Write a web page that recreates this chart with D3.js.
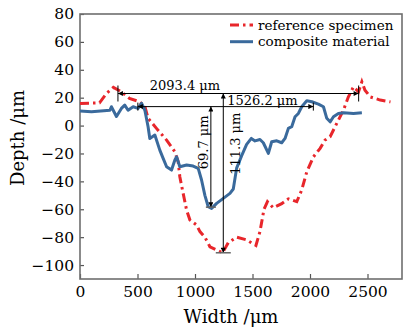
<!DOCTYPE html>
<html>
<head>
<meta charset="utf-8">
<script src="https://cdn.jsdelivr.net/npm/d3@7"></script>
<style>
  body { margin: 0; background: #fff; }
  text { font-family: "DejaVu Serif", "Liberation Serif", serif; fill: #000; }
</style>
</head>
<body>
<svg id="chart" width="406" height="331"></svg>
<script>
// reference specimen (red dash-dot)
const refWidth = [0, 170, 230, 290, 360, 430, 520, 565, 592, 665, 753, 825, 854, 868, 897, 927, 956, 1014, 1043, 1086, 1130, 1188, 1240,
    1289, 1362, 1450, 1530, 1565, 1600, 1630, 1681, 1754, 1812, 1885, 1928, 1972, 2030, 2088, 2131, 2175, 2204, 2247, 2291, 2334,
    2378, 2422, 2451, 2478, 2523, 2610, 2700];
const refDepth = [15.9, 16.3, 23, 27.4, 24.2, 19.5, 17, 13.5, 5.2, -2, -10.4, -18.8, -26, -36.7, -48.6, -60.6, -67.7, -71.3, -76, -80, -86.9, -89.2, -91.2,
    -84, -80, -82, -86, -76, -60, -54.6, -59, -56, -52.5, -54.6, -46.2, -33.1, -22.4, -16.3, -10.4, -8, -3.2, 3.9, 11.1, 20.6,
    27.8, 24.2, 31.4, 25.4, 20.6, 18.3, 17];

// composite material (blue solid)
const compWidth = [0, 100, 260, 273, 317, 360, 389, 418, 462, 505, 535, 564, 592, 607, 651, 694, 723, 753, 796, 825, 840, 868, 927, 984,
    1028, 1057, 1086, 1115, 1144, 1188, 1246, 1304, 1333, 1362, 1406, 1449, 1490, 1522, 1565, 1594, 1638, 1667, 1711, 1754, 1783,
    1812, 1841, 1870, 1899, 1928, 1972, 2016, 2073, 2117, 2146, 2175, 2204, 2247, 2291, 2378, 2451];
const compDepth = [10.5, 10, 11, 13.5, 6.5, 12.3, 14.7, 11, 13.5, 12.3, 16, 11, -0.8, -9.2, -6.8, -17.6, -23.5, -29.5, -31.9, -24.7, -22.4, -29.5, -28.3, -29,
    -30.7, -39, -50, -58.2, -59.4, -55.8, -52.2, -48.6, -45.5, -30.5, -21.5, -13.5, -9.2, -11, -10, -12.3, -19.9, -11.6, -10.9, -12.3, -9.2,
    -2, -0.8, 6.3, 8.7, 13.5, 17.8, 17.1, 15.4, 13.5, 5.2, 2.7, 6.3, 8.7, 9.2, 8.7, 9.2];

const seriesNames = ['reference specimen', 'composite material'];
const xTicks = [0, 500, 1000, 1500, 2000, 2500];
const yTicks = [80, 60, 40, 20, 0, -20, -40, -60, -80, -100];

// measurement annotations (data units)
const hSpans = [
    { x0: 330, x1: 2423, y: 23, label: '2093.4 μm', lx: 912, anchor: 'middle' },
    { x0: 503, x1: 2029, y: 13.6, label: '1526.2 μm', lx: 1280, anchor: 'start' }
];
const vSpans = [
    { x: 1138, y0: 13.6, y1: -58.5, label: '69.7 μm', ly: -12 },
    { x: 1246, y0: 23, y1: -91.2, label: '111.3 μm', ly: -13 }
];

const width = 406, height = 331;
const margin = { top: 14, right: 4, bottom: 52, left: 80 };
const iw = width - margin.left - margin.right;
const ih = height - margin.top - margin.bottom;

const svg = d3.select('#chart');
const defs = svg.append('defs');
defs.append('marker')
    .attr('id', 'arrow')
    .attr('viewBox', '0 0 10 10')
    .attr('refX', 10).attr('refY', 5)
    .attr('markerWidth', 6).attr('markerHeight', 5)
    .attr('markerUnits', 'userSpaceOnUse')
    .attr('orient', 'auto-start-reverse')
    .append('path').attr('d', 'M0,0L10,5L0,10Z').attr('fill', '#000');

const g = svg.append('g').attr('transform', 'translate(' + margin.left + ',' + margin.top + ')');

const x = d3.scaleLinear().domain([0, 2800]).range([0, iw]);
const y = d3.scaleLinear().domain([-110, 80]).range([ih, 0]);

// axes
const xAxis = g.append('g').attr('transform', 'translate(0,' + ih + ')')
    .call(d3.axisBottom(x).tickValues(xTicks).tickSizeInner(-5).tickSizeOuter(0).tickPadding(7)
        .tickFormat(d3.format('d')));
const yAxis = g.append('g')
    .call(d3.axisLeft(y).tickValues(yTicks).tickSizeInner(-4).tickSizeOuter(0).tickPadding(6)
        .tickFormat(d => d < 0 ? '\u2212' + Math.abs(d) : d));
[xAxis, yAxis].forEach(a => {
    a.attr('font-family', null);
    a.select('.domain').remove();
    a.selectAll('.tick line').attr('stroke', '#555').attr('stroke-width', 1.2);
});
xAxis.selectAll('text').attr('font-size', 15.5);
yAxis.selectAll('text').attr('font-size', 15.5);

g.append('rect')
    .attr('width', iw).attr('height', ih)
    .attr('fill', 'none').attr('stroke', '#6e6e6e').attr('stroke-width', 1.6);

// axis titles
g.append('text')
    .attr('x', 151).attr('y', ih + 44)
    .attr('text-anchor', 'middle').attr('font-size', 18)
    .text('Width /μm');
g.append('text')
    .attr('transform', 'translate(' + (-56) + ',' + 124 + ') rotate(-90)')
    .attr('text-anchor', 'middle').attr('font-size', 18)
    .text('Depth /μm');

// series
const line = d3.line().x(d => x(d[0])).y(d => y(d[1]));
const refData = refWidth.map((w, i) => [w, refDepth[i]]);
const compData = compWidth.map((w, i) => [w, compDepth[i]]);

const redColor = '#e8262b';
const blueColor = '#3a6a9c';
const redDash = '9,4,2.5,4';

g.append('path').datum(refData)
    .attr('d', line)
    .attr('fill', 'none').attr('stroke', redColor).attr('stroke-width', 3)
    .attr('stroke-dasharray', redDash);

g.append('path').datum(compData)
    .attr('d', line)
    .attr('fill', 'none').attr('stroke', blueColor).attr('stroke-width', 3)
    .attr('stroke-linejoin', 'round');

// annotations
const ann = g.append('g');
hSpans.forEach((s, i) => {
    const tick = i === 0 ? 8 : 4;
    ann.append('line')
        .attr('x1', x(s.x0)).attr('x2', x(s.x1)).attr('y1', y(s.y)).attr('y2', y(s.y))
        .attr('stroke', '#000').attr('stroke-width', 1)
        .attr('marker-start', 'url(#arrow)').attr('marker-end', 'url(#arrow)');
    [s.x0, s.x1].forEach(xv => {
        ann.append('line')
            .attr('x1', x(xv)).attr('x2', x(xv))
            .attr('y1', y(s.y) - tick).attr('y2', y(s.y) + tick)
            .attr('stroke', '#000').attr('stroke-width', 1);
    });
    ann.append('text')
        .attr('x', x(s.lx)).attr('y', y(s.y) - (i === 0 ? 3.5 : 1.5))
        .attr('text-anchor', s.anchor).attr('font-size', 13)
        .text(s.label);
});
vSpans.forEach((s, i) => {
    const half = i === 0 ? 5 : 7.5;
    ann.append('line')
        .attr('x1', x(s.x)).attr('x2', x(s.x)).attr('y1', y(s.y0)).attr('y2', y(s.y1))
        .attr('stroke', '#000').attr('stroke-width', 1)
        .attr('marker-start', 'url(#arrow)').attr('marker-end', 'url(#arrow)');
    ann.append('line')
        .attr('x1', x(s.x) - half).attr('x2', x(s.x) + half)
        .attr('y1', y(s.y1)).attr('y2', y(s.y1))
        .attr('stroke', '#666').attr('stroke-width', 1.5);
    const tx = i === 0 ? x(s.x) - 3 : x(s.x) + 17;
    ann.append('text')
        .attr('transform', 'translate(' + tx + ',' + y(s.ly) + ') rotate(-90)')
        .attr('text-anchor', 'middle').attr('font-size', 13)
        .text(s.label);
});

// legend
const legend = g.append('g').attr('transform', 'translate(' + (230 - margin.left) + ',' + (25 - margin.top) + ')');
seriesNames.forEach((name, i) => {
    const row = legend.append('g').attr('transform', 'translate(0,' + (i * 16.7) + ')');
    row.append('line')
        .attr('x1', 0).attr('x2', 23).attr('y1', 0).attr('y2', 0)
        .attr('stroke', i === 0 ? redColor : blueColor).attr('stroke-width', 3)
        .attr('stroke-dasharray', i === 0 ? redDash : null);
    row.append('text')
        .attr('x', 28).attr('y', 4.5)
        .attr('font-size', 13.5)
        .text(name);
});
</script>
</body>
</html>
